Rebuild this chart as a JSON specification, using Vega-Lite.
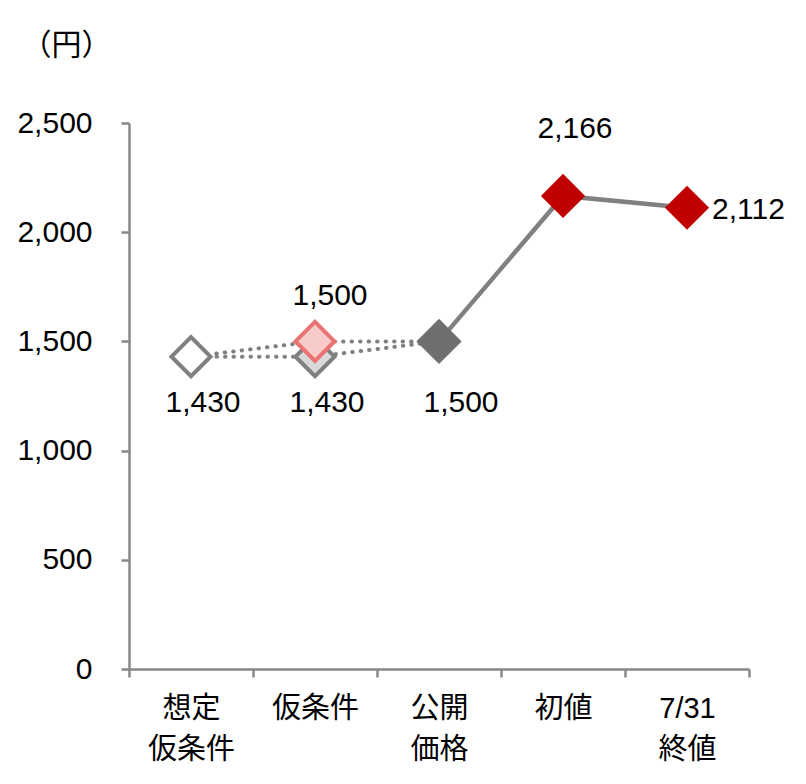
{
  "$schema": "https://vega.github.io/schema/vega-lite/v6.json",
  "width": 620,
  "height": 546,
  "autosize": {"type": "none"},
  "padding": {"left": 129, "top": 123, "right": 57, "bottom": 115},
  "background": "white",
  "config": {
    "view": {"stroke": null},
    "font": "Liberation Sans, Noto Sans CJK JP",
    "text": {"font": "Liberation Sans, Noto Sans CJK JP", "fontSize": 30, "color": "#000000", "baseline": "middle", "align": "center"}
  },
  "datasets": {
    "lines": [
      {"line": "下限", "i": 1, "cat": "想定|仮条件", "value": 1430},
      {"line": "下限", "i": 2, "cat": "仮条件", "value": 1430},
      {"line": "下限", "i": 3, "cat": "公開|価格", "value": 1500},
      {"line": "上限", "i": 1, "cat": "想定|仮条件", "value": 1430},
      {"line": "上限", "i": 2, "cat": "仮条件", "value": 1500},
      {"line": "上限", "i": 3, "cat": "公開|価格", "value": 1500},
      {"line": "実績", "i": 3, "cat": "公開|価格", "value": 1500},
      {"line": "実績", "i": 4, "cat": "初値", "value": 2166},
      {"line": "実績", "i": 5, "cat": "7/31|終値", "value": 2112}
    ],
    "points": [
      {"kind": "想定", "cat": "想定|仮条件", "value": 1430},
      {"kind": "下限", "cat": "仮条件", "value": 1430},
      {"kind": "上限", "cat": "仮条件", "value": 1500},
      {"kind": "公開", "cat": "公開|価格", "value": 1500},
      {"kind": "初値", "cat": "初値", "value": 2166},
      {"kind": "終値", "cat": "7/31|終値", "value": 2112}
    ]
  },
  "encoding": {
    "x": {
      "field": "cat",
      "type": "nominal",
      "sort": ["想定|仮条件", "仮条件", "公開|価格", "初値", "7/31|終値"],
      "scale": {"type": "band", "paddingInner": 0, "paddingOuter": 0},
      "axis": {
        "title": null,
        "labelAngle": 0,
        "labelExpr": "split(datum.label, '|')",
        "labelFont": "Liberation Sans, Noto Sans CJK JP",
        "labelFontSize": 29,
        "labelColor": "#000000",
        "labelLineHeight": 41,
        "labelPadding": 17,
        "labelBaseline": "top",
        "tickBand": "extent",
        "tickSize": 8,
        "tickColor": "#888888",
        "tickWidth": 2.5,
        "domainColor": "#888888",
        "domainWidth": 2.5,
        "grid": false
      }
    },
    "y": {
      "field": "value",
      "type": "quantitative",
      "scale": {"domain": [0, 2500], "nice": false, "zero": true},
      "axis": {
        "title": "（円）",
        "titleAngle": 0,
        "titleX": -63,
        "titleY": -78,
        "titleAlign": "center",
        "titleBaseline": "middle",
        "titleFont": "Liberation Sans, Noto Sans CJK JP",
        "titleFontSize": 30,
        "titleFontWeight": "normal",
        "titleColor": "#000000",
        "values": [0, 500, 1000, 1500, 2000, 2500],
        "format": ",d",
        "labelFont": "Liberation Sans, Noto Sans CJK JP",
        "labelFontSize": 30,
        "labelColor": "#000000",
        "labelPadding": 29,
        "tickSize": 8,
        "tickColor": "#888888",
        "tickWidth": 2.5,
        "domainColor": "#888888",
        "domainWidth": 2.5,
        "grid": false
      }
    }
  },
  "layer": [
    {
      "data": {"name": "lines"},
      "transform": [{"filter": "datum.line !== '実績'"}],
      "mark": {"type": "line", "color": "#808080", "strokeWidth": 4, "strokeDash": [0.5, 8], "strokeCap": "round"},
      "encoding": {"detail": {"field": "line"}, "order": {"field": "i"}}
    },
    {
      "data": {"name": "lines"},
      "transform": [{"filter": "datum.line === '実績'"}],
      "mark": {"type": "line", "color": "#808080", "strokeWidth": 4.5},
      "encoding": {"order": {"field": "i"}}
    },
    {
      "data": {"name": "points"},
      "transform": [{"filter": "datum.kind === '想定'"}],
      "mark": {"type": "point", "shape": "diamond", "size": 1521, "filled": true, "fill": "#ffffff", "stroke": "#808080", "strokeWidth": 4, "opacity": 1}
    },
    {
      "data": {"name": "points"},
      "transform": [{"filter": "datum.kind === '下限'"}],
      "mark": {"type": "point", "shape": "diamond", "size": 1521, "filled": true, "fill": "#d9d9d9", "stroke": "#808080", "strokeWidth": 4, "opacity": 1}
    },
    {
      "data": {"name": "points"},
      "transform": [{"filter": "datum.kind === '上限'"}],
      "mark": {"type": "point", "shape": "diamond", "size": 1521, "filled": true, "fill": "#f8cbcb", "stroke": "#e97373", "strokeWidth": 4, "opacity": 1}
    },
    {
      "data": {"name": "points"},
      "transform": [{"filter": "datum.kind === '公開'"}],
      "mark": {"type": "point", "shape": "diamond", "size": 2050, "filled": true, "fill": "#6f6f6f", "strokeWidth": 0, "opacity": 1}
    },
    {
      "data": {"name": "points"},
      "transform": [{"filter": "datum.kind === '初値' || datum.kind === '終値'"}],
      "mark": {"type": "point", "shape": "diamond", "size": 1950, "filled": true, "fill": "#c00000", "strokeWidth": 0, "opacity": 1}
    },
    {
      "data": {"name": "points"},
      "transform": [{"filter": "datum.kind === '想定' || datum.kind === '下限'"}],
      "mark": {"type": "text", "dy": 46, "dx": 12},
      "encoding": {"text": {"field": "value", "type": "quantitative", "format": ",d"}}
    },
    {
      "data": {"name": "points"},
      "transform": [{"filter": "datum.kind === '公開'"}],
      "mark": {"type": "text", "dy": 62, "dx": 22},
      "encoding": {"text": {"field": "value", "type": "quantitative", "format": ",d"}}
    },
    {
      "data": {"name": "points"},
      "transform": [{"filter": "datum.kind === '上限'"}],
      "mark": {"type": "text", "dy": -45, "dx": 15},
      "encoding": {"text": {"field": "value", "type": "quantitative", "format": ",d"}}
    },
    {
      "data": {"name": "points"},
      "transform": [{"filter": "datum.kind === '初値'"}],
      "mark": {"type": "text", "dy": -67, "dx": 12},
      "encoding": {"text": {"field": "value", "type": "quantitative", "format": ",d"}}
    },
    {
      "data": {"name": "points"},
      "transform": [{"filter": "datum.kind === '終値'"}],
      "mark": {"type": "text", "dy": 2, "dx": 25, "align": "left"},
      "encoding": {"text": {"field": "value", "type": "quantitative", "format": ",d"}}
    }
  ]
}
